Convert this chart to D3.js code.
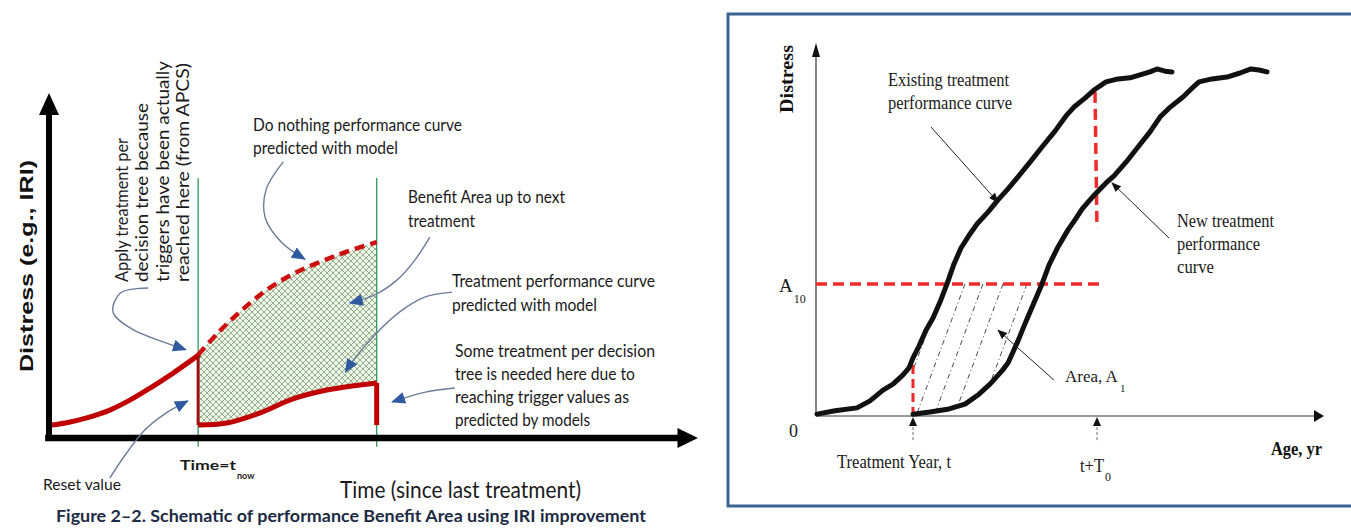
<!DOCTYPE html>
<html><head><meta charset="utf-8">
<script src="https://cdn.jsdelivr.net/npm/d3@7"></script>
<style>body{margin:0;background:#fff}svg{display:block}</style>
</head><body>
<svg id="c" width="1351" height="529"></svg>
<script>
// ================= DATA =================
// Left panel: Time (since last treatment) vs Distress (arbitrary units)
const tNow = 2.33;
const tNext = 5.12;
const preCurveX   = [0.05,0.33,0.59,0.95,1.27,1.58,1.94,2.33];
const preCurveY   = [0.38,0.47,0.59,0.82,1.12,1.47,1.91,2.43];
const doNothingX  = [2.33,2.67,3.03,3.42,3.81,4.16,4.47,4.78,5.12];
const doNothingY  = [2.45,3.15,3.79,4.38,4.82,5.12,5.35,5.56,5.76];
const treatX      = [2.33,2.78,3.30,3.81,4.34,4.73,5.12];
const treatY      = [0.38,0.44,0.74,1.15,1.41,1.53,1.62];

// Right panel: Age (yr) vs Distress (arbitrary units)
const treatYear = 1.94;
const treatYearPlusT0 = 5.62;
const A10 = 3.57;
const existingX = [0.02,0.38,0.82,1.08,1.34,1.54,1.74,1.86,1.94,2.06,2.20,2.34,2.48,2.62,2.76,2.90,3.08,3.22,3.44,3.64,3.84,4.04,4.28,4.52,4.78,5.00,5.16,5.38,5.56,5.80,6.04,6.28,6.48,6.68,6.82,6.98,7.12];
const existingY = [0.05,0.14,0.22,0.41,0.70,0.86,1.11,1.30,1.57,1.89,2.32,2.65,3.08,3.57,4.11,4.54,4.92,5.19,5.51,5.84,6.14,6.46,6.86,7.27,7.70,8.11,8.35,8.59,8.81,9.03,9.11,9.14,9.22,9.30,9.38,9.32,9.30];
const newX = [1.94,2.28,2.66,2.98,3.26,3.48,3.72,3.84,3.94,4.04,4.16,4.28,4.40,4.52,4.66,4.84,5.04,5.18,5.32,5.48,5.62,5.80,5.96,6.20,6.44,6.68,6.88,7.06,7.34,7.52,7.66,7.92,8.22,8.48,8.70,8.86,9.02];
const newY = [0.05,0.11,0.19,0.32,0.59,0.86,1.22,1.43,1.73,2.03,2.43,2.81,3.19,3.57,4.08,4.57,5.03,5.30,5.59,5.84,6.05,6.30,6.49,6.86,7.27,7.68,8.08,8.32,8.62,8.86,9.03,9.11,9.16,9.27,9.38,9.35,9.30];
const hatchTopX    = [2.58,2.98,3.34,3.74,4.22];
const hatchBottomX = [1.60,2.00,2.36,2.76,3.24];
const existingDropTopY = 8.76, existingDropBottomY = 5.08;
const treatDropTopY = 1.38;

// Tick / axis labels
const leftYLabel = "Distress (e.g., IRI)";
const leftXLabel = "Time (since last treatment)";
const rightYLabel = "Distress";
const rightXLabel = "Age, yr";
const rightTickLabels = [["0",""], ["A","10"], ["Treatment Year, t",""], ["t+T","0"]];
const caption = "Figure 2\u20132. Schematic of performance Benefit Area using IRI improvement";

// ================= SCALES =================
const svg = d3.select("#c");
const xL = d3.scaleLinear().domain([0,10]).range([49,689]);
const yL = d3.scaleLinear().domain([0,10]).range([438,98]);
const xR = d3.scaleLinear().domain([0,10]).range([816,1316]);
const yR = d3.scaleLinear().domain([0,10]).range([416,46]);

const zip = (xs, ys) => xs.map((x,i)=>[x, ys[i]]);
const lineL = d3.line().x(d=>xL(d[0])).y(d=>yL(d[1])).curve(d3.curveCatmullRom);
const lineR = d3.line().x(d=>xR(d[0])).y(d=>yR(d[1]));

const defs = svg.append("defs");
const pat = defs.append("pattern").attr("id","xh").attr("patternUnits","userSpaceOnUse")
  .attr("width",6).attr("height",6);
pat.append("rect").attr("width",6).attr("height",6).attr("fill","#eef6e6");
pat.append("path").attr("d","M0,0L6,6M6,0L0,6").attr("stroke","#6f8f6a").attr("stroke-width",0.7);
defs.append("marker").attr("id","blueHead").attr("markerUnits","userSpaceOnUse")
  .attr("viewBox","0 0 14 12").attr("markerWidth",14).attr("markerHeight",12)
  .attr("refX",13).attr("refY",6).attr("orient","auto")
  .append("path").attr("d","M0,0L14,6L0,12Z").attr("fill","#2f5aa0");
defs.append("marker").attr("id","blackHead").attr("markerUnits","userSpaceOnUse")
  .attr("viewBox","0 0 10 8").attr("markerWidth",10).attr("markerHeight",8)
  .attr("refX",9).attr("refY",4).attr("orient","auto")
  .append("path").attr("d","M0,0L10,4L0,8Z").attr("fill","#111");

function txt(g, x, y, s, o={}) {
  const t = g.append("text").attr("x",x).attr("y",y)
    .attr("font-family", o.family || "Lato")
    .attr("font-size", o.size || 17)
    .attr("font-weight", o.weight || "normal")
    .attr("fill", o.fill || "#1a1a1a");
  const main = t.append("tspan").text(s);
  if (o.len) main.attr("textLength", o.len).attr("lengthAdjust","spacingAndGlyphs");
  if (o.sub) {
    t.append("tspan").text(o.sub).attr("dy", o.subDy || 10).attr("dx", o.subDx || 1)
      .attr("font-size", o.subSize || 12).attr("font-weight", o.subWeight || o.weight || "normal");
  }
  if (o.rotate) t.attr("transform", `rotate(-90,${x},${y})`);
  return t;
}

// ================= LEFT PANEL =================
const L = svg.append("g");
const topPts = zip(doNothingX, doNothingY);
const botPts = zip(treatX, treatY).slice().reverse();
const areaPath = lineL(topPts) + "L" + lineL(botPts).slice(1) + "Z";
L.append("path").attr("d", areaPath).attr("fill","url(#xh)");

[tNow, tNext].forEach(t => {
  L.append("line").attr("x1",xL(t)).attr("x2",xL(t)).attr("y1",yL(7.65)).attr("y2",yL(-0.26))
    .attr("stroke","#2e9a5a").attr("stroke-width",1.3);
});

L.append("path").attr("d", lineL(zip(preCurveX, preCurveY))).attr("fill","none")
  .attr("stroke","#c00000").attr("stroke-width",5).attr("stroke-linecap","round");
L.append("path").attr("d", lineL(topPts)).attr("fill","none")
  .attr("stroke","#cc1010").attr("stroke-width",4.5).attr("stroke-dasharray","10,6");
L.append("path").attr("d", lineL(zip(treatX, treatY))).attr("fill","none")
  .attr("stroke","#c00000").attr("stroke-width",5);
L.append("line").attr("x1",xL(tNow)).attr("x2",xL(tNow)).attr("y1",yL(preCurveY[preCurveY.length-1])).attr("y2",yL(treatY[0]))
  .attr("stroke","#9a1010").attr("stroke-width",3);
L.append("line").attr("x1",xL(tNext)).attr("x2",xL(tNext)).attr("y1",yL(treatY[treatY.length-1])).attr("y2",yL(0.38))
  .attr("stroke","#c00000").attr("stroke-width",5);

L.append("line").attr("x1",xL(-0.06)).attr("x2",xL(9.86)).attr("y1",yL(0)).attr("y2",yL(0))
  .attr("stroke","#000").attr("stroke-width",6.5);
L.append("path").attr("d",`M${xL(10.14)},${yL(0)}L${xL(9.82)},${yL(0)-10}L${xL(9.82)},${yL(0)+10}Z`).attr("fill","#000");
L.append("line").attr("x1",xL(0)).attr("x2",xL(0)).attr("y1",yL(-0.08)).attr("y2",yL(9.6))
  .attr("stroke","#000").attr("stroke-width",6);
L.append("path").attr("d",`M${xL(0)},${yL(10.15)}L${xL(0)-10},${yL(9.5)}L${xL(0)+10},${yL(9.5)}Z`).attr("fill","#000");

const blueArrows = [
  [[1.55,4.41],[1.12,4.27],[1.0,3.70],[1.30,3.20],[1.75,2.85],[2.14,2.60]],
  [[3.66,8.12],[3.39,7.29],[3.38,6.47],[3.64,5.74],[4.0,5.26]],
  [[5.95,5.91],[5.72,5.24],[5.44,4.65],[5.09,4.21],[4.70,3.97]],
  [[6.30,4.29],[5.88,4.15],[5.48,3.71],[5.09,3.03],[4.78,2.35],[4.63,1.94]],
  [[0.95,-1.18],[1.19,-0.50],[1.50,0.24],[1.81,0.71],[2.17,1.09]],
  [[6.34,1.47],[5.88,1.35],[5.36,1.06]]
];
blueArrows.forEach(a => {
  L.append("path").attr("d", lineL(a)).attr("fill","none").attr("stroke","#6b7c98")
    .attr("stroke-width",1.4).attr("marker-end","url(#blueHead)");
});

txt(L, 33, 372, leftYLabel, {family:"Liberation Sans", size:19, weight:"bold", len:212, rotate:true, fill:"#111"});
const rotLines = [["Apply treatment per",128,144],["decision tree because",148,179],["triggers have been actually",169,221],["reached here (from APCS)",189,219]];
rotLines.forEach(r => txt(L, r[1], 282, r[0], {size:17.5, len:r[2], rotate:true}));
txt(L, 253, 131, "Do nothing performance curve", {size:17.5, len:209});
txt(L, 253, 154, "predicted with model", {size:17.5, len:145});
txt(L, 408, 203, "Benefit Area up to next", {size:17.5, len:157});
txt(L, 408, 227, "treatment", {size:17.5, len:67});
txt(L, 452, 287, "Treatment performance curve", {size:17.5, len:203});
txt(L, 452, 311, "predicted with model", {size:17.5, len:145});
txt(L, 455, 357, "Some treatment per decision", {size:17.5, len:200});
txt(L, 455, 380, "tree is needed here due to", {size:17.5, len:180});
txt(L, 455, 403, "reaching trigger values as", {size:17.5, len:174});
txt(L, 455, 426, "predicted by models", {size:17.5, len:135});
txt(L, 43, 490, "Reset value", {size:16, len:78});
txt(L, 180, 470, "Time=t", {size:14, weight:"bold", len:56, sub:"now", subSize:9, subDy:9, subDx:0});
txt(L, 340, 498, leftXLabel, {size:23, len:241});
txt(L, 56, 522, caption, {size:17, weight:"bold", len:590, fill:"#1c2a44"});

// ================= RIGHT PANEL =================
const R = svg.append("g");
R.append("rect").attr("x",728).attr("y",14).attr("width",700).attr("height",492)
  .attr("fill","none").attr("stroke","#3d6391").attr("stroke-width",3);

const exPts = zip(existingX, existingY);
const nwPts = zip(newX, newY);
const clipPts = exPts.filter(d => d[0] >= treatYear && d[1] <= A10)
  .concat(nwPts.filter(d => d[1] <= A10).reverse());
defs.append("clipPath").attr("id","hclip").append("path").attr("d", lineR(clipPts) + "Z");
const hg = R.append("g").attr("clip-path","url(#hclip)");
hatchTopX.forEach((xt,i) => {
  hg.append("line").attr("x1",xR(xt)).attr("y1",yR(A10)).attr("x2",xR(hatchBottomX[i])).attr("y2",yR(0))
    .attr("stroke","#333").attr("stroke-width",0.9).attr("stroke-dasharray","5,3,1,3");
});

R.append("line").attr("x1",xR(0)).attr("x2",xR(10.0)).attr("y1",yR(0)).attr("y2",yR(0))
  .attr("stroke","#777").attr("stroke-width",1.6);
R.append("path").attr("d",`M${xR(10.16)},${yR(0)}L${xR(9.96)},${yR(0)-6}L${xR(9.96)},${yR(0)+6}Z`).attr("fill","#111");
R.append("line").attr("x1",xR(0)).attr("x2",xR(0)).attr("y1",yR(0)).attr("y2",yR(9.8))
  .attr("stroke","#333").attr("stroke-width",1.2);
R.append("path").attr("d",`M${xR(0)},${yR(10.08)}L${xR(0)-4},${yR(9.7)}L${xR(0)+4},${yR(9.7)}Z`).attr("fill","#111");

R.append("line").attr("x1",xR(0)).attr("x2",xR(treatYearPlusT0+0.04)).attr("y1",yR(A10)).attr("y2",yR(A10))
  .attr("stroke","#ee2a2a").attr("stroke-width",3.5).attr("stroke-dasharray","11,6");
R.append("line").attr("x1",xR(treatYear)).attr("x2",xR(treatYear)).attr("y1",yR(treatDropTopY)).attr("y2",yR(0))
  .attr("stroke","#ee2a2a").attr("stroke-width",3).attr("stroke-dasharray","9,5");
R.append("line").attr("x1",xR(treatYearPlusT0-0.04)).attr("x2",xR(treatYearPlusT0)).attr("y1",yR(existingDropTopY)).attr("y2",yR(existingDropBottomY))
  .attr("stroke","#ee2a2a").attr("stroke-width",3.5).attr("stroke-dasharray","11,6");

R.append("path").attr("d", lineR(exPts)).attr("fill","none").attr("stroke","#111")
  .attr("stroke-width",5).attr("stroke-linejoin","round").attr("stroke-linecap","round");
R.append("path").attr("d", lineR(nwPts)).attr("fill","none").attr("stroke","#111")
  .attr("stroke-width",5).attr("stroke-linejoin","round").attr("stroke-linecap","round");

[treatYear, treatYearPlusT0].forEach(t => {
  R.append("path").attr("d",`M${xR(t)},${yR(0)+1}L${xR(t)-4},${yR(0)+10}L${xR(t)+4},${yR(0)+10}Z`).attr("fill","#111");
  R.append("line").attr("x1",xR(t)).attr("x2",xR(t)).attr("y1",yR(-0.3)).attr("y2",yR(-0.68))
    .attr("stroke","#666").attr("stroke-width",1).attr("stroke-dasharray","3,2");
});

const blackArrows = [
  [[2.30,7.81],[3.64,5.78]],
  [[7.06,4.81],[5.92,6.30]],
  [[4.76,0.97],[3.64,2.32]]
];
blackArrows.forEach(a => {
  R.append("path").attr("d", lineR(a)).attr("fill","none").attr("stroke","#222")
    .attr("stroke-width",1).attr("marker-end","url(#blackHead)");
});

const serif = "Liberation Serif";
txt(R, 793, 113, rightYLabel, {family:serif, size:18, weight:"bold", len:68, rotate:true, fill:"#111"});
txt(R, 888, 86, "Existing treatment", {family:serif, size:19, len:121});
txt(R, 888, 109, "performance curve", {family:serif, size:19, len:124});
txt(R, 1177, 227, "New treatment", {family:serif, size:19, len:97});
txt(R, 1177, 250, "performance", {family:serif, size:19, len:83});
txt(R, 1177, 273, "curve", {family:serif, size:19, len:37});
txt(R, 1065, 382, "Area, A", {family:serif, size:17, sub:"1", subSize:11, subDy:10, subDx:2});
txt(R, 789, 437, rightTickLabels[0][0], {family:serif, size:18});
txt(R, 779, 292, rightTickLabels[1][0], {family:serif, size:19, sub:rightTickLabels[1][1], subSize:12, subDy:11, subDx:1});
txt(R, 837, 468, rightTickLabels[2][0], {family:serif, size:18, len:114});
txt(R, 1080, 472, rightTickLabels[3][0], {family:serif, size:18, len:24, sub:rightTickLabels[3][1], subSize:12, subDy:9, subDx:0});
txt(R, 1271, 455, rightXLabel, {family:serif, size:18, weight:"bold", len:51, fill:"#111"});
</script>
</body></html>
